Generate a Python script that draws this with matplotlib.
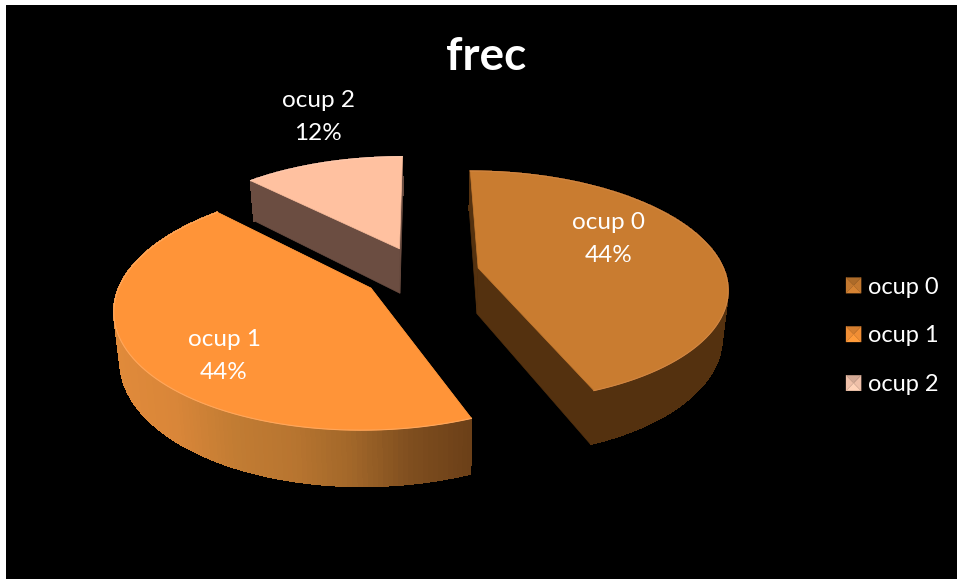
import numpy as np
import matplotlib
matplotlib.use("Agg")
import matplotlib.pyplot as plt
from matplotlib.collections import PolyCollection
from matplotlib.colors import LinearSegmentedColormap, to_rgb
from matplotlib.legend_handler import HandlerBase
from matplotlib.patches import Patch, Polygon

# data
labels = ["ocup 0", "ocup 1", "ocup 2"]
values = [44.0, 43.6, 12.4]
title = "frec"

# colours
top_colors = ["#C97C30", "#FF9438", "#FFC1A0"]
edge_colors = ["#D28642", "#FFA75C", "#FFCBB0"]
side_colors = ["#54310F", "#A5682B", "#6B4D41"]
legend_colors = ["#C97C30", "#F79237", "#F6C6AE"]
rim_map = LinearSegmentedColormap.from_list(
    "rim", ["#6C4018", "#7F4E1F", "#A26729", "#B87530", "#C27C33", "#D98639", "#E08A3A"])

# fake 3d camera, everything in image pixels
cx, cy = 421, 273
rx, ry = 247, 114
persp = 0.16
explode = 0.237
depth = 46
low_scale = 0.98

plt.rcParams["font.family"] = ["Lato", "DejaVu Sans"]


def project(u, v, low=False):
    w = 1 + persp * v
    x = rx * u / w
    y = cy - ry * v / w
    if low:
        x = x * low_scale
        y = y + depth / w
    return np.column_stack([cx + x, y])


fig = plt.figure(figsize=(9.57, 5.79), dpi=100, facecolor="white")
ax = fig.add_axes([6 / 957, 0, 951 / 957, 574 / 579], facecolor="black")
ax.set_xlim(6, 957)
ax.set_ylim(579, 5)
ax.axis("off")
ax.add_patch(plt.Rectangle((6, 5), 951, 574, color="black", zorder=0))

# angles clockwise from 12 o'clock
edges = np.concatenate([[0], np.cumsum(values)]) / np.sum(values) * 2 * np.pi

z = 1
for i in [2, 0, 1]:
    a0, a1 = edges[i], edges[i + 1]
    mid = (a0 + a1) / 2
    ou, ov = explode * np.sin(mid), explode * np.cos(mid)
    t = np.linspace(a0, a1, 160)
    u = ou + np.sin(t)
    v = ov + np.cos(t)

    # cut faces
    for a in [a0, a1]:
        fu = np.array([ou, ou + np.sin(a)])
        fv = np.array([ov, ov + np.cos(a)])
        up = project(fu, fv)
        lo = project(fu, fv, low=True)
        ax.add_patch(Polygon(np.vstack([up, lo[::-1]]), fc=side_colors[i],
                             ec=side_colors[i], lw=0.5, zorder=z))
    z += 1

    # outer wall, no antialias between the strips or seams show
    up = project(u, v)
    lo = project(u, v, low=True)
    quads = [np.vstack([up[k], up[k + 1], lo[k + 1], lo[k]]) for k in range(len(t) - 1)]
    if i == 1:
        xpos = (up[:-1, 0] - up[:, 0].min()) / np.ptp(up[:, 0])
        cols = rim_map(1 - xpos)
    else:
        cols = [side_colors[i]] * len(quads)
    ax.add_collection(PolyCollection(quads, facecolors=cols, edgecolors=cols,
                                     linewidths=0.6, antialiaseds=False, zorder=z))
    z += 1

    # top
    top = np.vstack([project(np.array([ou]), np.array([ov])), up])
    ax.add_patch(Polygon(top, fc=top_colors[i], ec=top_colors[i], lw=0.5, zorder=z))
    ax.plot(up[:, 0], up[:, 1], color=edge_colors[i], lw=0.8, zorder=z)
    z += 1

# data labels
label_pos = [(609, 239), (224, 356), (318, 117)]
for i in range(3):
    ax.text(label_pos[i][0], label_pos[i][1], f"{labels[i]}\n{values[i]:.0f}%", color="white",
            fontsize=17.5, ha="center", va="center", linespacing=1.65, zorder=20)

ax.text(486, 57, title, color="white", fontsize=33, fontweight="bold",
        ha="center", va="center", zorder=20)


# small pyramid squares of the legend
class PyramidHandler(HandlerBase):
    def create_artists(self, legend, orig, xd, yd, w, h, fontsize, trans):
        base = np.array(to_rgb(orig.get_facecolor()))
        x0, y0 = -xd, -yd
        c = (x0 + w / 2, y0 + h / 2)
        corners = [(x0, y0), (x0 + w, y0), (x0 + w, y0 + h), (x0, y0 + h)]
        shade = [1.06, 0.97, 0.86, 0.97]
        out = []
        for k in range(4):
            col = np.clip(base * shade[k], 0, 1)
            out.append(Polygon([corners[k], corners[(k + 1) % 4], c], fc=col, ec=col,
                               lw=0.2, transform=trans))
        return out


handles = [Patch(facecolor=c, label=l) for c, l in zip(legend_colors, labels)]
ax.legend(handles=handles, loc="center left", bbox_to_anchor=(840 / 951, 1 - (336 - 5) / 574),
          frameon=False, labelcolor="white", fontsize=17, handlelength=0.64, handleheight=0.64,
          handletextpad=0.3, labelspacing=1.18, borderpad=0, borderaxespad=0,
          handler_map={Patch: PyramidHandler()})

fig.savefig("out.png", dpi=100, facecolor="white")
